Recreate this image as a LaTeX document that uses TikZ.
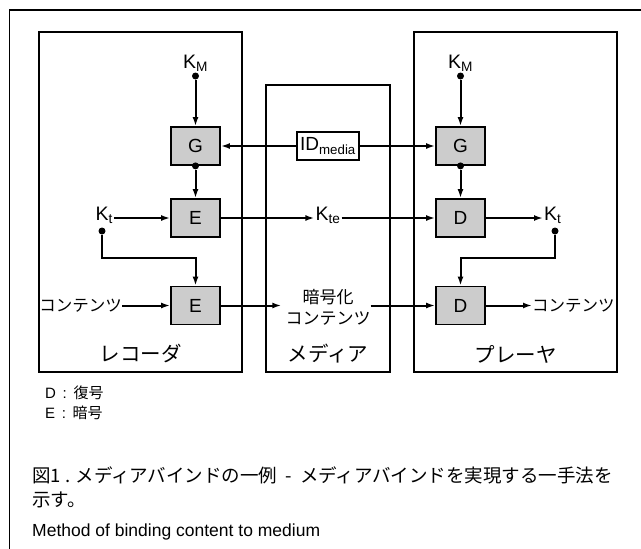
\documentclass[tikz,border=0pt]{standalone}
\usepackage{fontspec}
\setmainfont{Liberation Sans}
\newfontfamily\jp{Noto Sans CJK JP}
\usetikzlibrary{arrows.meta,positioning}
\tikzset{
    %Define standard arrow tip
    >={Latex[length=9pt,width=6pt]},
    %Define style for the grey function boxes
    func/.style={
           rectangle,
           draw=black, line width=1.8pt,
           fill=black!20,
           minimum width=49pt,
           minimum height=38pt,
           font=\fontsize{19}{19}\selectfont},
    %Define style for the device frames
    device/.style={
           rectangle,
           draw=black, line width=1.6pt,
           inner sep=0pt},
    % Define arrow style
    pil/.style={
           ->,
           line width=2pt},
    % Junction dots
    pnt/.style={circle, fill=black, inner sep=0pt, minimum size=7pt},
    % Key and signal labels
    sig/.style={inner sep=1pt, font=\fontsize{19.5}{19.5}\selectfont},
    txt/.style={inner sep=0pt, font=\fontsize{16.5}{19}\selectfont\jp},
    title/.style={font=\fontsize{20.5}{20.5}\selectfont\jp}
}

\begin{document}
\begin{tikzpicture}[x=1pt, y=-1pt]
		\useasboundingbox (0,0) rectangle (641,549);
		% outer frame
		\draw[line width=1.5pt] (641,10) -- (9.5,10) -- (9.5,549);
		% devices
		\node[device, minimum width=203pt, minimum height=340pt] (recorder) at (140.5,202) {};
		\node[device, minimum width=124pt, minimum height=287pt] (media) at (328,228.5) {};
		\node[device, minimum width=203pt, minimum height=340pt] (player) at (515.5,202) {};
		\node[title] (recname) at (140.5,354) {レコーダ};
		\node[title] (medname) at (328,354) {メディア};
		\node[title] (plyname) at (515.5,354) {プレーヤ};
		% recorder side
		\node[func] (recG) at (195.5,146) {G};
		\node[func] (recE) at (195.5,218) {E};
		\node[func] (recE2) at (195.5,305.5) {E};
		\node[sig] (recKM) at (195.5,63) {K\textsubscript{M}};
		\node[pnt] (recKMdot) at (195.5,76) {};
		\node[pnt] (recGdot) at (recG.south) {};
		\node[sig, anchor=east] (recKt) at (114,215) {K\textsubscript{t}};
		\node[pnt] (recKtdot) at (102,231) {};
		\coordinate (recbend) at (195.5,258);
		\node[txt, anchor=east] (recin) at (122,305.5) {コンテンツ};
		% media
		\node[draw, line width=1.5pt, minimum width=62pt, minimum height=28pt, inner sep=0pt, font=\fontsize{19}{19}\selectfont] (idm) at (328,146) {ID\textsubscript{media}};
		\node[sig] (kte) at (328,215) {K\textsubscript{te}};
		\node[txt, align=center, font=\fontsize{17}{21}\selectfont\jp] (enc) at (328,307) {暗号化\\コンテンツ};
		% player side
		\node[func] (plyG) at (460.5,146) {G};
		\node[func] (plyD) at (460.5,218) {D};
		\node[func] (plyD2) at (460.5,305.5) {D};
		\node[sig] (plyKM) at (460.5,63) {K\textsubscript{M}};
		\node[pnt] (plyKMdot) at (460.5,76) {};
		\node[pnt] (plyGdot) at (plyG.south) {};
		\node[sig, anchor=west] (plyKt) at (543,215) {K\textsubscript{t}};
		\node[pnt] (plyKtdot) at (555,231) {};
		\coordinate (plybend) at (460.5,258);
		\node[txt, anchor=west] (plyout) at (532,305.5) {コンテンツ};
		% connections
		\draw[pil] (recKMdot) -- (recG.north);
		\draw[pil] (recGdot) -- (recE.north);
		\draw[pil] (recKt.east |- recE) -- (recE.west);
		\draw[pil] (recKtdot) |- (recbend) -- (recE2.north);
		\draw[pil] (recin.east) -- (recE2.west);
		\draw[pil] (idm.west) -- (recG.east);
		\draw[pil] (idm.east) -- (plyG.west);
		\draw[pil] (recE.east) -- (kte.west |- recE);
		\draw[pil] (kte.east |- plyD) -- (plyD.west);
		\draw[pil] (recE2.east) -- ([xshift=-4pt]enc.west |- recE2);
		\draw[pil] (enc.east |- plyD2) -- (plyD2.west);
		\draw[pil] (plyKMdot) -- (plyG.north);
		\draw[pil] (plyGdot) -- (plyD.north);
		\draw[pil] (plyD.east) -- (plyKt.west |- plyD);
		\draw[pil] (plyKtdot) |- (plybend) -- (plyD2.north);
		\draw[pil] (plyD2.east) -- (plyout.west);
		% legend and caption
		\node[anchor=west, inner sep=0pt, font=\fontsize{15}{15}\selectfont] (legD) at (45,393) {D \,:\, {\jp 復号}};
		\node[anchor=west, inner sep=0pt, font=\fontsize{15}{15}\selectfont] (legE) at (45,413) {E \,:\, {\jp 暗号}};
		\node[txt, anchor=west, font=\fontsize{18.5}{19}\selectfont\jp] (cap1) at (32,475) {図1 . メディアバインドの一例 \ - \ メディアバインドを実現する一手法を};
		\node[txt, anchor=west, font=\fontsize{18.5}{19}\selectfont\jp] (cap2) at (32,500) {示す。};
		\node[anchor=west, inner sep=0pt, font=\fontsize{17.5}{17.5}\selectfont] (cap3) at (32,532) {Method of binding content to medium};
	\end{tikzpicture}
\end{document}
